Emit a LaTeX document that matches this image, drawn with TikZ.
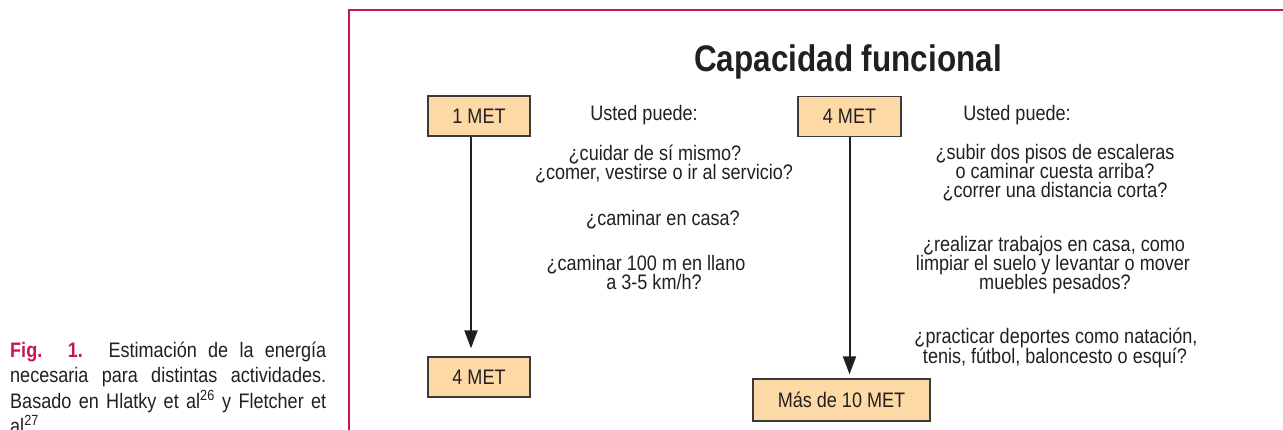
\documentclass[tikz,border=0pt]{standalone}
\usepackage{fontspec}
\setmainfont{Liberation Sans}[FakeStretch=0.86]
\newfontfamily\titlefont{Liberation Sans}[FakeStretch=0.85]
\usetikzlibrary{arrows.meta}
\definecolor{crim}{HTML}{C8174A}
\definecolor{boxfill}{HTML}{FDD9A6}
\definecolor{boxline}{HTML}{3A3A3A}
\definecolor{ink}{HTML}{231F20}
\begin{document}
\begin{tikzpicture}[x=1pt,y=-1pt,
  metbox/.style={draw=boxline, fill=boxfill, line width=1.3pt, inner sep=0pt,
    minimum height=40pt, text=ink, font=\fontsize{21}{22}\selectfont},
  txt/.style={text=ink, font=\fontsize{21}{19}\selectfont, inner sep=0pt, anchor=base},
  captxt/.style={text=ink, font=\fontsize{21}{22}\selectfont, inner sep=0pt, anchor=base west},
  arr/.style={draw=ink, line width=2pt, -{Triangle[length=18pt,width=13pt]}},
  framestyle/.style={draw=crim, line width=2pt}]
\useasboundingbox (0,0) rectangle (1283,430);
\clip (0,0) rectangle (1283,430);
\draw[framestyle] (349,432) -- (349,10) -- (1285,10);

% title
\node[text=ink, inner sep=0pt, anchor=base,
  font=\titlefont\bfseries\fontsize{37}{40}\selectfont] (title) at (848,72) {Capacidad funcional};

% boxes
\node[metbox, minimum width=102pt] (b1) at (479,116) {1 MET};
\node[metbox, minimum width=102pt] (b2) at (479,377) {4 MET};
\node[metbox, minimum width=103pt] (b3) at (849.5,116.5) {4 MET};
\node[metbox, minimum width=177pt, minimum height=42pt] (b4) at (841.5,400) {Más de 10 MET};

% arrows
\draw[arr, shorten >=8pt] ([xshift=-8pt]b1.south) -- ([xshift=-8pt]b2.north);
\draw[arr, shorten >=4pt] (b3.south) -- (b3.south |- b4.north);

% left column
\node[txt] (l0) at (644,121) {Usted puede:};
\node[txt] (l1) at (655,161) {¿cuidar de sí mismo?};
\node[txt] (l2) at (664,180) {¿comer, vestirse o ir al servicio?};
\node[txt] (l3) at (663,226) {¿caminar en casa?};
\node[txt] (l4) at (646,271) {¿caminar 100 m en llano};
\node[txt] (l5) at (654,290) {a 3-5 km/h?};

% right column
\node[txt] (r0) at (1017,121) {Usted puede:};
\node[txt] (r1) at (1055,160) {¿subir dos pisos de escaleras};
\node[txt] (r2) at (1055,179) {o caminar cuesta arriba?};
\node[txt] (r3) at (1055,198) {¿correr una distancia corta?};
\node[txt] (r4) at (1054,252) {¿realizar trabajos en casa, como};
\node[txt] (r5) at (1053,271) {limpiar el suelo y levantar o mover};
\node[txt] (r6) at (1055,290) {muebles pesados?};
\node[txt] (r7) at (1056,344) {¿practicar deportes como natación,};
\node[txt] (r8) at (1055,363) {tenis, fútbol, baloncesto o esquí?};

% caption
\node[captxt] (c1) at (10,358) {\makebox[316pt][s]{\textcolor{crim}{\bfseries Fig.} \textcolor{crim}{\bfseries 1.} Estimación de la energía}};
\node[captxt] (c2) at (10,383) {\makebox[316pt][s]{necesaria para distintas actividades.}};
\node[captxt] (c3) at (10,408) {\makebox[316pt][s]{Basado en Hlatky et al\textsuperscript{26} y Fletcher et}};
\node[captxt] (c4) at (10,433) {al\textsuperscript{27}};
\end{tikzpicture}
\end{document}
